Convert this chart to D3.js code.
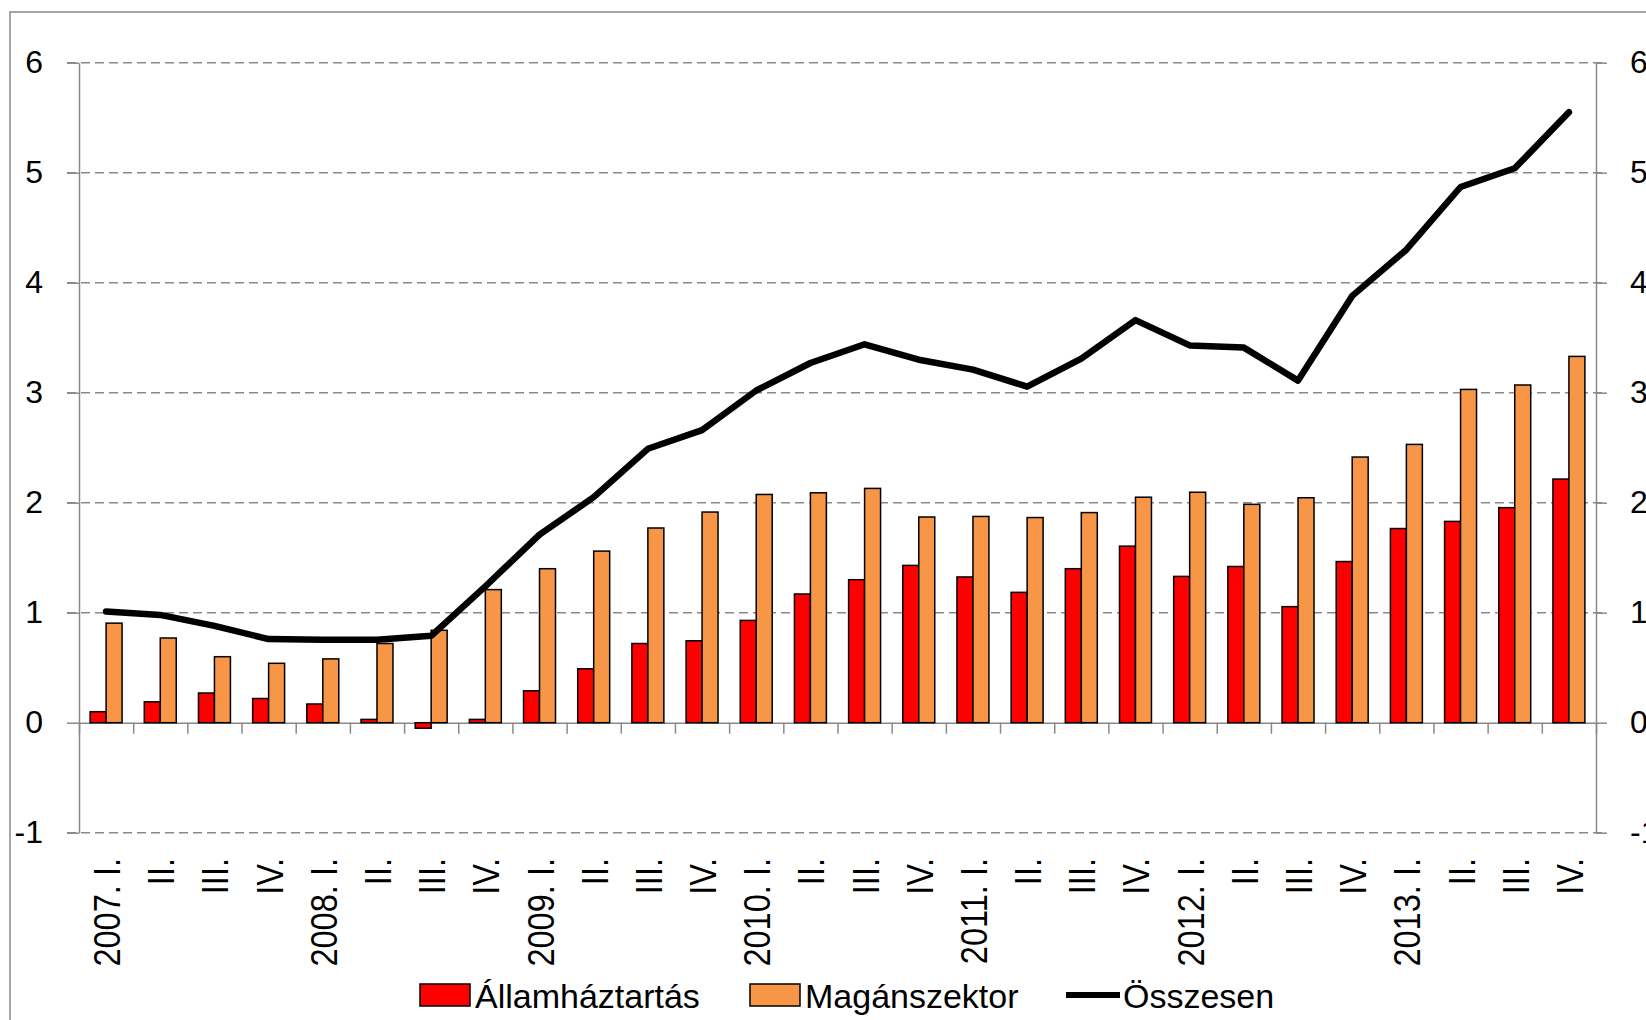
<!DOCTYPE html>
<html>
<head>
<meta charset="utf-8">
<style>
  body { margin: 0; background: #fff; }
  svg text { font-family: "Liberation Sans", Arial, sans-serif; fill: #000; }
</style>
</head>
<body>
<svg id="chart" width="1646" height="1020"></svg>
<script src="https://cdnjs.cloudflare.com/ajax/libs/d3/7.8.5/d3.min.js"></script>
<script>
  // quarters 2007 I - 2013 IV
  const quarters = [
    "2007. I.", "II.", "III.", "IV.",
    "2008. I.", "II.", "III.", "IV.",
    "2009. I.", "II.", "III.", "IV.",
    "2010. I.", "II.", "III.", "IV.",
    "2011. I.", "II.", "III.", "IV.",
    "2012. I.", "II.", "III.", "IV.",
    "2013. I.", "II.", "III.", "IV."
  ];
  const allamhaztartas = [0.10, 0.19, 0.27, 0.22, 0.17, 0.03, -0.05, 0.03,
    0.29, 0.49, 0.72, 0.745, 0.93, 1.17, 1.30, 1.43,
    1.325, 1.185, 1.40, 1.605, 1.33, 1.42, 1.055, 1.465,
    1.765, 1.83, 1.955, 2.215];
  const maganszektor = [0.905, 0.77, 0.60, 0.54, 0.58, 0.72, 0.84, 1.21,
    1.40, 1.56, 1.77, 1.915, 2.075, 2.09, 2.13, 1.87,
    1.875, 1.865, 1.91, 2.05, 2.095, 1.985, 2.045, 2.415,
    2.53, 3.03, 3.07, 3.33];
  const osszesen = [1.01, 0.98, 0.88, 0.76, 0.755, 0.755, 0.79, 1.24,
    1.71, 2.05, 2.49, 2.66, 3.02, 3.27, 3.44, 3.30,
    3.21, 3.055, 3.31, 3.66, 3.43, 3.41, 3.11, 3.88,
    4.30, 4.87, 5.04, 5.55];
  const yTicks = [-1, 0, 1, 2, 3, 4, 5, 6];
  const seriesNames = ["Államháztartás", "Magánszektor", "Összesen"];

  const plotLeft = 79, plotRight = 1596, plotTop = 62.7, plotBottom = 832.7;
  const red = "#ff0000", orange = "#f79646", gray = "#898989";

  const svg = d3.select("#chart");

  // outer frame (only top and left edges are visible)
  svg.append("rect")
    .attr("x", 10).attr("y", 12)
    .attr("width", 1700).attr("height", 1100)
    .attr("fill", "none")
    .attr("stroke", gray)
    .attr("stroke-width", 1.5);

  const idx = d3.range(quarters.length);

  const x0 = d3.scaleBand()
    .domain(idx)
    .range([plotLeft, plotRight])
    .paddingInner(0.41)
    .paddingOuter(0.205);

  const x1 = d3.scaleBand()
    .domain(["a", "m"])
    .range([0, x0.bandwidth()]);

  const xb = d3.scaleLinear()
    .domain([0, quarters.length])
    .range([plotLeft, plotRight]);

  const y = d3.scaleLinear()
    .domain([-1, 6])
    .range([plotBottom, plotTop]);

  const center = i => x0(i) + x0.bandwidth() / 2;
  const tickText = d => String(d); // plain hyphen for negatives, like the original

  // gridlines
  svg.append("g")
    .selectAll("line")
    .data(yTicks.filter(v => v !== 0))
    .join("line")
    .attr("x1", plotLeft - 12).attr("x2", plotRight + 11)
    .attr("y1", d => y(d)).attr("y2", d => y(d))
    .attr("stroke", gray)
    .attr("stroke-width", 1.5)
    .attr("stroke-dasharray", "9,5");

  // left axis
  const yLeft = svg.append("g")
    .attr("transform", `translate(${plotLeft},0)`)
    .call(d3.axisLeft(y).tickValues(yTicks).tickSize(12).tickPadding(24).tickSizeOuter(0)
      .tickFormat(tickText));
  yLeft.selectAll("text").style("font-size", "32px");

  // right axis
  const yRight = svg.append("g")
    .attr("transform", `translate(${plotRight},0)`)
    .call(d3.axisRight(y).tickValues(yTicks).tickSize(11).tickPadding(23).tickSizeOuter(0)
      .tickFormat(tickText));
  yRight.selectAll("text").style("font-size", "32px");

  [yLeft, yRight].forEach(g => {
    g.select(".domain").attr("stroke", gray).attr("stroke-width", 1.5);
    g.selectAll(".tick line").attr("stroke", gray).attr("stroke-width", 1.5);
  });

  // x axis at zero with ticks at category boundaries
  const xAxis = svg.append("g")
    .attr("transform", `translate(0,${y(0)})`)
    .call(d3.axisBottom(xb).tickValues(d3.range(0, quarters.length + 1))
      .tickSize(11).tickSizeOuter(0).tickFormat(""));
  xAxis.select(".domain").attr("stroke", gray).attr("stroke-width", 1.5);
  xAxis.selectAll(".tick line").attr("stroke", gray).attr("stroke-width", 1.5);

  // bars
  const groups = svg.append("g")
    .selectAll("g")
    .data(idx)
    .join("g")
    .attr("transform", d => `translate(${x0(d)},0)`);

  groups.append("rect")
    .attr("x", x1("a"))
    .attr("width", x1.bandwidth())
    .attr("y", d => y(Math.max(0, allamhaztartas[d])))
    .attr("height", d => Math.abs(y(allamhaztartas[d]) - y(0)))
    .attr("fill", red)
    .attr("stroke", "#000")
    .attr("stroke-width", 1.5);

  groups.append("rect")
    .attr("x", x1("m"))
    .attr("width", x1.bandwidth())
    .attr("y", d => y(Math.max(0, maganszektor[d])))
    .attr("height", d => Math.abs(y(maganszektor[d]) - y(0)))
    .attr("fill", orange)
    .attr("stroke", "#000")
    .attr("stroke-width", 1.5);

  // total line
  const line = d3.line()
    .x(d => center(d))
    .y(d => y(osszesen[d]));

  svg.append("path")
    .datum(idx)
    .attr("d", line)
    .attr("fill", "none")
    .attr("stroke", "#000")
    .attr("stroke-width", 6.5)
    .attr("stroke-linecap", "round")
    .attr("stroke-linejoin", "round");

  // rotated category labels
  svg.append("g")
    .selectAll("text")
    .data(idx)
    .join("text")
    .attr("transform", d => `translate(${center(d) + 14},858) rotate(-90) scale(0.88,1)`)
    .attr("text-anchor", "end")
    .style("font-size", "37px")
    .text(d => quarters[d]);

  // legend
  const legend = svg.append("g");
  const legendX = [420, 750, 1066];

  [red, orange].forEach((c, i) => {
    legend.append("rect")
      .attr("x", legendX[i]).attr("y", 984)
      .attr("width", 50).attr("height", 22)
      .attr("fill", c)
      .attr("stroke", "#000")
      .attr("stroke-width", 1.5);
  });
  legend.append("line")
    .attr("x1", legendX[2]).attr("x2", legendX[2] + 54)
    .attr("y1", 995).attr("y2", 995)
    .attr("stroke", "#000")
    .attr("stroke-width", 6);

  legend.selectAll("text")
    .data(seriesNames)
    .join("text")
    .attr("x", (d, i) => legendX[i] + (i === 2 ? 57 : 55))
    .attr("y", 1008)
    .style("font-size", "34px")
    .text(d => d);
</script>
</body>
</html>
